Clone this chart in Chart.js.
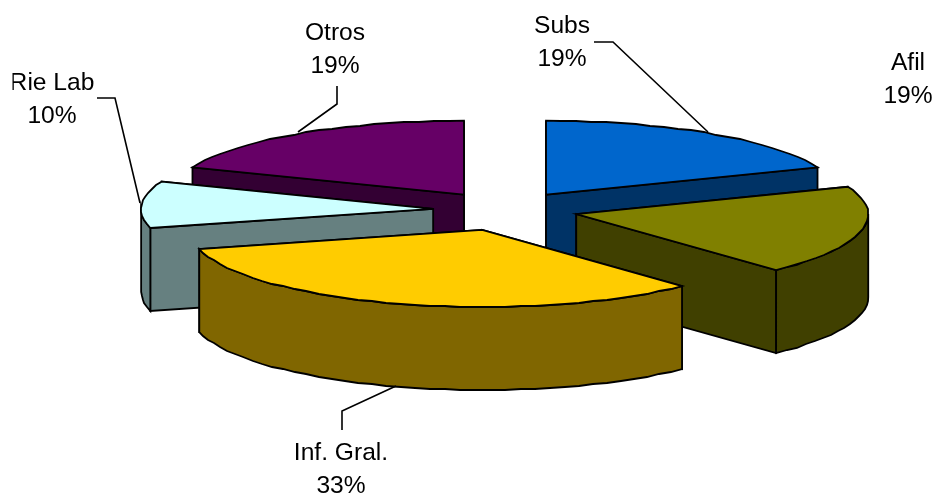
<!DOCTYPE html>
<html>
<head>
<meta charset="utf-8">
<script src="https://cdn.jsdelivr.net/npm/chart.js@4"></script>
<style>
  html, body { margin: 0; padding: 0; background: #fff; }
  canvas { display: block; }
</style>
</head>
<body>
<canvas id="pie3d" width="938" height="498"></canvas>
<script>
const categories = ['Subs', 'Afil', 'Inf. Gral.', 'Rie Lab', 'Otros'];
const shares = [19, 19, 33, 10, 19];

const topColors = ['#0066CC', '#808000', '#FFCC00', '#CCFFFF', '#660066'];
const wallColors = ['#003366', '#404000', '#806600', '#668080', '#330033'];
const explode = [73, 73, 82, 72, 73];

// where the 3d pie sits on the page, front half is a bit deeper (perspective)
const CX = 505, CY = 210, RX = 292, RY_BACK = 74, RY_FRONT = 77, DEPTH = 83;

// label text anchors and leader lines, same order as categories
const labelSpots = [
  { x: 562, y: 33, line: [[594, 42], [613, 42], [708, 132]] },
  { x: 908, y: 70, line: null },
  { x: 341, y: 460, line: [[342, 430], [342, 411], [396, 386]] },
  { x: 52, y: 90, line: [[97, 98], [115, 98], [140, 203]], clipLeft: 12.5 },
  { x: 335, y: 40, line: [[337, 86], [337, 104], [298, 132]] }
];

function rimPoints(apex, from, to) {
  const pts = [];
  const step = Math.PI / 60;
  const n = Math.max(1, Math.round((to - from) / step));
  for (let i = 0; i <= n; i++) {
    const a = from + (to - from) * i / n;
    const s = Math.sin(a);
    let x = apex.x + Math.cos(a) * RX;
    let y = apex.y + s * (s > 0 ? RY_FRONT : RY_BACK);
    // the original outline is a bit stepped
    if (i > 0 && i < n) { x = Math.round(x); y = Math.round(y); }
    pts.push([x, y]);
  }
  return pts;
}

function shape(ctx, pts, fill) {
  ctx.beginPath();
  pts.forEach((p, i) => i ? ctx.lineTo(p[0], p[1]) : ctx.moveTo(p[0], p[1]));
  ctx.closePath();
  ctx.fillStyle = fill;
  ctx.fill();
  ctx.stroke();
}

function drawSlice(ctx, arc, i) {
  const mid = (arc.startAngle + arc.endAngle) / 2;
  const off = arc.options.offset;
  const apex = { x: CX + Math.cos(mid) * off, y: CY + Math.sin(mid) * off * RY_BACK / RX };
  const wall = wallColors[i];

  const rim = rimPoints(apex, arc.startAngle, arc.endAngle);
  const down = p => [p[0], p[1] + DEPTH];

  // radial faces, the one further back first
  const faces = [rim[0], rim[rim.length - 1]].sort((a, b) => a[1] - b[1]);
  faces.forEach(p => {
    const a = [apex.x, apex.y];
    shape(ctx, [a, p, down(p), down(a)], wall);
  });

  // outer wall only where the rim faces the viewer (sin > 0)
  const k = Math.floor(arc.endAngle / (Math.PI * 2));
  const from = Math.max(arc.startAngle, k * Math.PI * 2);
  const to = Math.min(arc.endAngle, k * Math.PI * 2 + Math.PI);
  if (to > from) {
    const outer = rimPoints(apex, from, to);
    shape(ctx, outer.concat(outer.slice().reverse().map(down)), wall);
  }

  shape(ctx, [[apex.x, apex.y]].concat(rim), topColors[i]);
}

const pie3d = {
  id: 'pie3d',
  beforeDatasetsDraw(chart) {
    const ctx = chart.ctx;
    const arcs = chart.getDatasetMeta(0).data;
    ctx.save();
    ctx.lineWidth = 1.8;
    ctx.strokeStyle = '#000';
    ctx.lineJoin = 'miter';
    const order = arcs.map((a, i) => i).sort((a, b) => {
      const y = n => Math.sin((arcs[n].startAngle + arcs[n].endAngle) / 2) * arcs[n].options.offset;
      return y(a) - y(b);
    });
    order.forEach(i => drawSlice(ctx, arcs[i], i));
    ctx.restore();
    return false;
  },
  afterDraw(chart) {
    const ctx = chart.ctx;
    ctx.save();
    ctx.strokeStyle = '#000';
    ctx.lineWidth = 1.6;
    ctx.fillStyle = '#000';
    ctx.font = '24.6px "Liberation Sans", Arial, sans-serif';
    ctx.textAlign = 'center';
    categories.forEach((name, i) => {
      const spot = labelSpots[i];
      if (spot.line) {
        ctx.beginPath();
        spot.line.forEach((p, j) => j ? ctx.lineTo(p[0], p[1]) : ctx.moveTo(p[0], p[1]));
        ctx.stroke();
      }
      ctx.save();
      if (spot.clipLeft) {
        ctx.beginPath();
        ctx.rect(spot.clipLeft, 0, 938, 498);
        ctx.clip();
      }
      ctx.fillText(name, spot.x, spot.y);
      ctx.fillText(shares[i] + '%', spot.x, spot.y + 33);
      ctx.restore();
    });
    ctx.restore();
  }
};

new Chart(document.getElementById('pie3d').getContext('2d'), {
  type: 'pie',
  data: {
    labels: categories,
    datasets: [{
      data: shares,
      backgroundColor: topColors,
      offset: explode
    }]
  },
  options: {
    responsive: false,
    animation: false,
    plugins: {
      legend: { display: false },
      tooltip: { enabled: false }
    }
  },
  plugins: [pie3d]
});
</script>
</body>
</html>
